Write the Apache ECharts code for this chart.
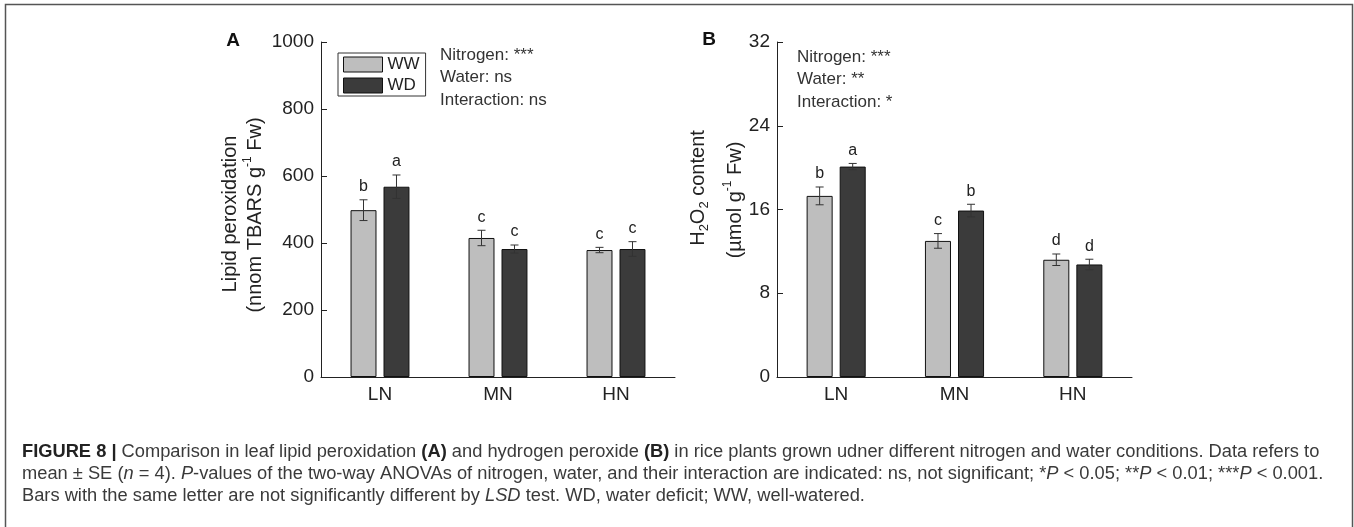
<!DOCTYPE html>
<html>
<head>
<meta charset="utf-8">
<script src="https://cdn.jsdelivr.net/npm/echarts@6/dist/echarts.min.js"></script>
<style>
html,body{margin:0;padding:0;background:#fff;}
#chart{width:1354px;height:527px;}
</style>
</head>
<body>
<div id="chart"></div>
<script>
// ---------- data ----------
const categories = ['LN', 'MN', 'HN'];
const seriesNames = ['WW', 'WD'];

const lipidWW = [498, 415, 379];
const lipidWD = [568, 382, 382];
const lipidWWErr = [31, 23, 8];
const lipidWDErr = [35, 12, 22];
const lipidWWLetters = ['b', 'c', 'c'];
const lipidWDLetters = ['a', 'c', 'c'];

const h2o2WW = [17.3, 13.0, 11.2];
const h2o2WD = [20.1, 15.9, 10.75];
const h2o2WWErr = [0.85, 0.7, 0.55];
const h2o2WDErr = [0.3, 0.6, 0.5];
const h2o2WWLetters = ['b', 'c', 'd'];
const h2o2WDLetters = ['a', 'b', 'd'];

const lipidTicks = { min: 0, max: 1000, interval: 200 };
const h2o2Ticks = { min: 0, max: 32, interval: 8 };

const statsA = ['Nitrogen: ***', 'Water: ns', 'Interaction: ns'];
const statsB = ['Nitrogen: ***', 'Water: **', 'Interaction: *'];

const captionLines = [
  '{b|FIGURE 8 |} Comparison in leaf lipid peroxidation {b|(A)} and hydrogen peroxide {b|(B)} in rice plants grown udner different nitrogen and water conditions. Data refers to',
  'mean \u00B1 SE ({i|n} = 4). {i|P}-values of the two-way ANOVAs of nitrogen, water, and their interaction are indicated: ns, not significant; *{i|P} < 0.05; **{i|P} < 0.01; ***{i|P} < 0.001.',
  'Bars with the same letter are not significantly different by {i|LSD} test. WD, water deficit; WW, well-watered.'
];

// ---------- style ----------
const FONT = '"Liberation Sans", Arial, Helvetica, sans-serif';
const COL_WW = '#bebebe';
const COL_WD = '#3b3b3b';
const TXT = '#222';
const BAR_FRAC = 0.22;
const GAP_FRAC = 0.27;
const CAP_FS = 18.3;

const chart = echarts.init(document.getElementById('chart'), null, { renderer: 'canvas' });

function zip(vals, errs) { return vals.map((v, i) => [i, v, errs[i]]); }

function errRender(sign, letters) {
  return function (params, api) {
    const i = api.value(0), v = api.value(1), e = api.value(2);
    const band = api.size([1, 0])[0];
    const off = sign * band * BAR_FRAC * (1 + GAP_FRAC) / 2;
    const top = api.coord([i, v + e]);
    const bot = api.coord([i, v - e]);
    const x = top[0] + off;
    const cap = 4;
    const ls = { stroke: '#333', lineWidth: 1 };
    return {
      type: 'group',
      children: [
        { type: 'line', shape: { x1: x, y1: top[1], x2: x, y2: bot[1] }, style: ls },
        { type: 'line', shape: { x1: x - cap, y1: top[1], x2: x + cap, y2: top[1] }, style: ls },
        { type: 'line', shape: { x1: x - cap, y1: bot[1], x2: x + cap, y2: bot[1] }, style: ls },
        { type: 'text', x: x, y: top[1] - 13,
          style: { text: letters[i], align: 'center', verticalAlign: 'middle', fontSize: 16, fontFamily: FONT, fill: TXT } }
      ]
    };
  };
}

function barSeries(name, data, color, axisIdx) {
  return {
    name: name, type: 'bar', xAxisIndex: axisIdx, yAxisIndex: axisIdx,
    data: data, barWidth: (BAR_FRAC * 100) + '%', barGap: (GAP_FRAC * 100) + '%',
    itemStyle: { color: color, borderColor: '#111', borderWidth: 1 },
    silent: true
  };
}
function errSeries(name, vals, errs, sign, letters, axisIdx) {
  return {
    name: name + ' err', type: 'custom', xAxisIndex: axisIdx, yAxisIndex: axisIdx,
    data: zip(vals, errs), encode: { x: 0, y: 1 }, renderItem: errRender(sign, letters),
    z: 5, silent: true, clip: false
  };
}

const axisLabelStyle = { color: TXT, fontSize: 19, fontFamily: FONT };

function yAxis(gi, t) {
  return {
    type: 'value', gridIndex: gi, min: t.min, max: t.max, interval: t.interval,
    axisLine: { show: true, lineStyle: { color: '#222', width: 1 } },
    axisTick: { show: true, inside: true, length: 6, lineStyle: { color: '#222' } },
    axisLabel: Object.assign({ margin: 7, formatter: v => String(v) }, axisLabelStyle),
    splitLine: { show: false }
  };
}
function xAxis(gi) {
  return {
    type: 'category', gridIndex: gi, data: categories,
    axisLine: { show: true, lineStyle: { color: '#222', width: 1 } },
    axisTick: { show: false },
    axisLabel: Object.assign({ margin: 8 }, axisLabelStyle)
  };
}

function statsText(lines, x, y) {
  return lines.map((s, k) => ({
    type: 'text', x: x, y: y + k * 22.5,
    style: { text: s, fontSize: 17, fontFamily: FONT, fill: '#333', align: 'left', verticalAlign: 'middle' }
  }));
}

const richTitle = {
  n: { fontSize: 20, fontFamily: FONT, fill: TXT, lineHeight: 26, verticalAlign: 'middle' },
  sup: { fontSize: 12, fontFamily: FONT, fill: TXT, lineHeight: 26, verticalAlign: 'top' },
  sub: { fontSize: 13, fontFamily: FONT, fill: TXT, lineHeight: 26, verticalAlign: 'bottom' }
};
function rotTitle(text, x, y) {
  return {
    type: 'text', x: x, y: y, rotation: Math.PI / 2,
    style: { text: text, rich: richTitle, align: 'center', verticalAlign: 'middle', fill: TXT, fontSize: 20, fontFamily: FONT }
  };
}

const captionRich = {
  b: { fontWeight: 'bold', fontSize: CAP_FS, fontFamily: FONT, fill: '#222' },
  i: { fontStyle: 'italic', fontSize: CAP_FS, fontFamily: FONT, fill: '#3a3a3a' }
};
const captionY = [452, 474, 496];

const graphics = [
  { type: 'rect', shape: { x: 5.5, y: 4.5, width: 1347, height: 540 }, style: { fill: 'none', stroke: '#555', lineWidth: 1.5 }, silent: true },
  { type: 'text', x: 233, y: 41, style: { text: 'A', fontSize: 19, fontWeight: 'bold', fontFamily: FONT, fill: '#111', align: 'center', verticalAlign: 'middle' } },
  { type: 'text', x: 709, y: 40, style: { text: 'B', fontSize: 19, fontWeight: 'bold', fontFamily: FONT, fill: '#111', align: 'center', verticalAlign: 'middle' } },
  rotTitle('{n|Lipid peroxidation}', 230, 214),
  rotTitle('{n|(nnom TBARS g}{sup|-1}{n| Fw)}', 255, 215),
  rotTitle('{n|H}{sub|2}{n|O}{sub|2}{n| content}', 698, 188),
  rotTitle('{n|(\u00B5mol g}{sup|-1}{n| Fw)}', 735, 200)
].concat(statsText(statsA, 440, 55), statsText(statsB, 797, 57),
  captionLines.map((t, k) => ({
    type: 'text', x: 22, y: captionY[k],
    style: { text: t, rich: captionRich, fontSize: CAP_FS, fontFamily: FONT, fill: '#3a3a3a', align: 'left', verticalAlign: 'middle' }
  })));

const option = {
  animation: false,
  backgroundColor: '#fff',
  textStyle: { fontFamily: FONT },
  grid: [
    { left: 321, top: 42, width: 354, height: 335 },
    { left: 777, top: 42, width: 355, height: 335 }
  ],
  legend: {
    data: seriesNames, orient: 'vertical', left: 338, top: 53,
    borderColor: '#333', borderWidth: 1, padding: [3, 6, 2, 5],
    itemWidth: 39, itemHeight: 15, itemGap: 4, icon: 'rect', selectedMode: false,
    itemStyle: { borderColor: '#111', borderWidth: 1 },
    textStyle: { fontSize: 17, color: TXT, fontFamily: FONT, lineHeight: 17 }
  },
  xAxis: [xAxis(0), xAxis(1)],
  yAxis: [yAxis(0, lipidTicks), yAxis(1, h2o2Ticks)],
  series: [
    barSeries('WW', lipidWW, COL_WW, 0),
    barSeries('WD', lipidWD, COL_WD, 0),
    barSeries('WW', h2o2WW, COL_WW, 1),
    barSeries('WD', h2o2WD, COL_WD, 1),
    errSeries('WW', lipidWW, lipidWWErr, -1, lipidWWLetters, 0),
    errSeries('WD', lipidWD, lipidWDErr, 1, lipidWDLetters, 0),
    errSeries('WW', h2o2WW, h2o2WWErr, -1, h2o2WWLetters, 1),
    errSeries('WD', h2o2WD, h2o2WDErr, 1, h2o2WDLetters, 1)
  ],
  graphic: graphics
};
chart.setOption(option);
</script>
</body>
</html>
